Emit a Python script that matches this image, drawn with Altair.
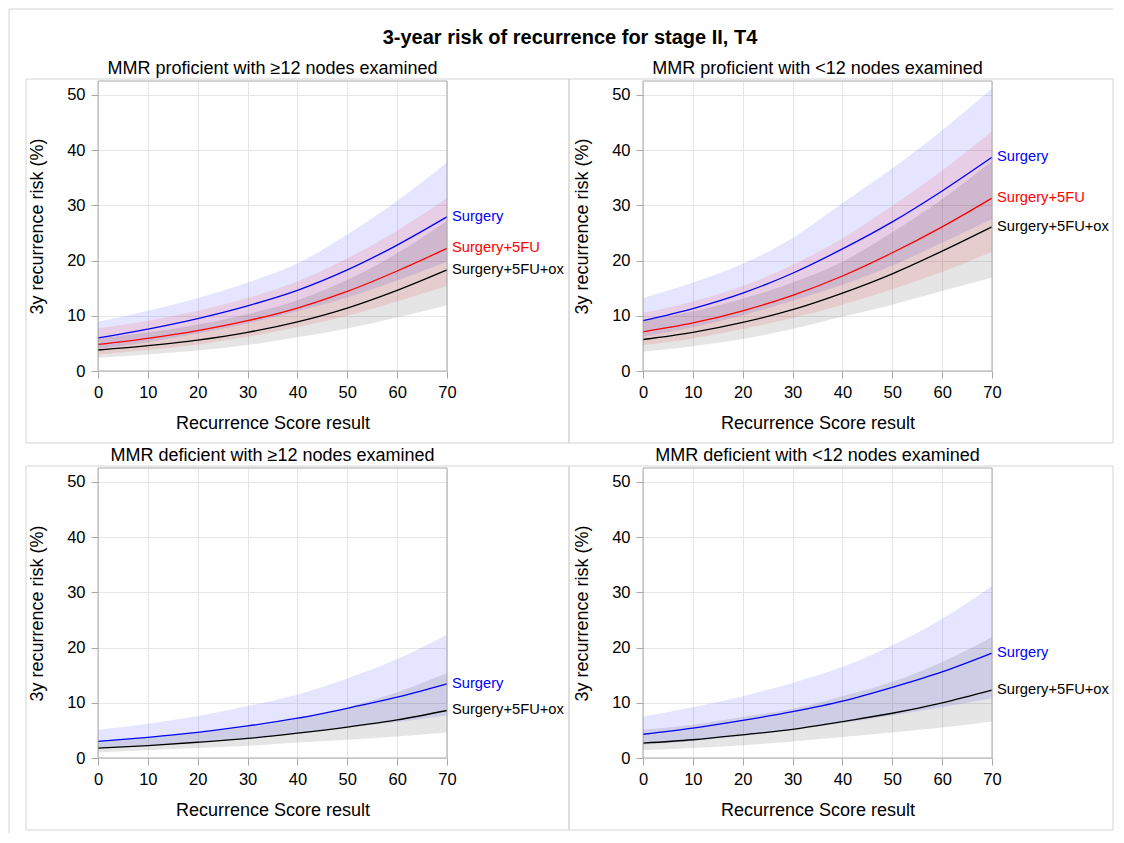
import altair as alt
import pandas as pd

FONT = "Liberation Sans"
MAIN_TITLE = "3-year risk of recurrence for stage II, T4"
PANEL_TITLES = [
    "MMR proficient with \u226512 nodes examined",
    "MMR proficient with <12 nodes examined",
    "MMR deficient with \u226512 nodes examined",
    "MMR deficient with <12 nodes examined",
]
SERIES = ["Surgery", "Surgery+5FU", "Surgery+5FU+ox"]
COLORS = ["#0000ff", "#ff0000", "#000000"]

X = [0, 10, 20, 30, 40, 50, 60, 70]

# Top-left: MMR proficient, >=12 nodes
TL_SURG = [6.0, 7.6, 9.5, 11.8, 14.6, 18.3, 22.8, 27.9]
TL_SURG_LO = [4.0, 5.2, 6.8, 8.6, 10.8, 13.3, 16.4, 19.8]
TL_SURG_HI = [8.9, 10.9, 13.2, 16.0, 19.5, 24.7, 30.8, 37.8]
TL_5FU = [4.8, 5.9, 7.3, 9.1, 11.4, 14.4, 18.1, 22.2]
TL_5FU_LO = [3.0, 3.8, 4.8, 6.2, 7.9, 10.0, 12.6, 15.4]
TL_5FU_HI = [7.7, 9.1, 10.9, 13.2, 16.2, 20.4, 25.4, 31.3]
TL_OX = [3.8, 4.6, 5.6, 7.0, 8.9, 11.4, 14.6, 18.3]
TL_OX_LO = [2.4, 3.0, 3.7, 4.7, 6.1, 7.7, 9.7, 11.9]
TL_OX_HI = [5.9, 7.0, 8.4, 10.3, 12.8, 16.5, 21.3, 27.2]

# Top-right: MMR proficient, <12 nodes
TR_SURG = [9.1, 11.3, 14.1, 17.7, 22.1, 27.0, 32.6, 38.7]
TR_SURG_LO = [6.2, 7.9, 10.1, 12.7, 15.6, 19.1, 23.2, 27.5]
TR_SURG_HI = [13.2, 16.0, 19.4, 24.1, 30.4, 36.7, 43.6, 51.2]
TR_5FU = [7.1, 8.7, 10.9, 13.7, 17.2, 21.4, 26.1, 31.3]
TR_5FU_LO = [4.7, 5.9, 7.6, 9.6, 12.0, 14.8, 17.9, 21.6]
TR_5FU_HI = [10.5, 12.6, 15.4, 19.2, 24.0, 29.9, 36.3, 43.4]
TR_OX = [5.7, 7.0, 8.8, 11.1, 14.1, 17.6, 21.7, 26.1]
TR_OX_LO = [3.5, 4.5, 5.8, 7.6, 9.8, 12.0, 14.5, 16.9]
TR_OX_HI = [9.1, 10.8, 13.1, 16.0, 19.8, 25.1, 31.1, 38.0]

# Bottom-left: MMR deficient, >=12 nodes
BL_SURG = [3.0, 3.75, 4.65, 5.8, 7.2, 9.0, 11.0, 13.4]
BL_SURG_LO = [1.8, 2.2, 2.8, 3.5, 4.4, 5.5, 6.5, 7.7]
BL_SURG_HI = [5.1, 6.2, 7.6, 9.4, 11.5, 14.4, 17.9, 22.3]
BL_OX = [1.8, 2.25, 2.85, 3.55, 4.5, 5.6, 6.9, 8.6]
BL_OX_LO = [1.0, 1.4, 1.8, 2.2, 2.8, 3.3, 3.9, 4.6]
BL_OX_HI = [3.1, 3.7, 4.6, 5.6, 7.1, 9.2, 11.9, 15.4]

# Bottom-right: MMR deficient, <12 nodes
BR_SURG = [4.3, 5.4, 6.8, 8.4, 10.3, 12.8, 15.6, 19.0]
BR_SURG_LO = [2.4, 3.1, 4.0, 5.1, 6.3, 7.7, 9.2, 10.8]
BR_SURG_HI = [7.5, 9.2, 11.2, 13.6, 16.5, 20.4, 25.2, 31.2]
BR_OX = [2.7, 3.3, 4.2, 5.2, 6.6, 8.1, 10.0, 12.3]
BR_OX_LO = [1.4, 1.8, 2.3, 3.0, 3.8, 4.6, 5.5, 6.6]
BR_OX_HI = [5.1, 6.0, 7.4, 8.9, 11.2, 13.8, 17.4, 21.9]

W, H = 349, 290
BOX_COLOR = "#d4d4d4"
FRAME_COLOR = "#a8a8a8"


def one(v):
    return pd.DataFrame({"v": [v]})


def panel(series_list, title, box_x, top_left=False):
    rows = []
    for name, mid, lo, hi in series_list:
        for x, m, l, h in zip(X, mid, lo, hi):
            rows.append({"rs": x, "series": name, "risk": m, "lo": l, "hi": h})
    df = pd.DataFrame(rows)

    xenc = alt.X(
        "rs:Q",
        scale=alt.Scale(domain=[0, 70], nice=False),
        axis=alt.Axis(values=X, title="Recurrence Score result", titlePadding=14,
                      labelFlush=False),
    )
    yscale = alt.Scale(domain=[0, 52.5], nice=False)
    yaxis = alt.Axis(values=[0, 10, 20, 30, 40, 50], title="3y recurrence risk (%)",
                     titlePadding=20, labelFlush=False)
    color = alt.Color("series:N", scale=alt.Scale(domain=SERIES, range=COLORS), legend=None)

    base = alt.Chart(df)
    bands = base.mark_area(interpolate="monotone", opacity=0.1).encode(
        x=xenc, y=alt.Y("lo:Q", scale=yscale, axis=yaxis), y2="hi:Q", color=color
    )
    lines = base.mark_line(interpolate="monotone", strokeWidth=1.3).encode(
        x=xenc, y=alt.Y("risk:Q", scale=yscale, axis=yaxis), color=color
    )
    labels = base.transform_filter("datum.rs == 70").mark_text(
        align="left", baseline="middle", dx=5, fontSize=14.7, font=FONT
    ).encode(
        x=xenc, y=alt.Y("risk:Q", scale=yscale, axis=yaxis), text="series:N", color=color
    )
    box = alt.Chart(one(0)).mark_rect(fill="transparent", stroke=BOX_COLOR, strokeWidth=1).encode(
        x=alt.value(box_x[0]), x2=alt.value(box_x[1]), y=alt.value(-2), y2=alt.value(H + 72)
    )
    frame = alt.Chart(one(0)).mark_rect(fill="transparent", stroke=FRAME_COLOR, strokeWidth=1).encode(
        x=alt.value(0), x2=alt.value(W), y=alt.value(0), y2=alt.value(H)
    )
    ptitle = alt.Chart(one(title)).mark_text(
        fontSize=18, font=FONT, align="center", baseline="middle", color="#000000"
    ).encode(text="v:N", x=alt.value(W / 2), y=alt.value(-12))

    layers = [box, bands, lines, frame, labels, ptitle]
    if top_left:
        mtitle = alt.Chart(one(MAIN_TITLE)).mark_text(
            fontSize=20, fontWeight="bold", font=FONT, align="center", baseline="middle",
            color="#000000"
        ).encode(text="v:N", x=alt.value(472), y=alt.value(-43))
        top_rule = alt.Chart(one(0)).mark_rule(color=BOX_COLOR).encode(
            x=alt.value(-89), x2=alt.value(1015), y=alt.value(-72)
        )
        left_rule = alt.Chart(one(0)).mark_rule(color=BOX_COLOR).encode(
            x=alt.value(-89), y=alt.value(-72), y2=alt.value(752)
        )
        layers += [mtitle, top_rule, left_rule]
    return alt.layer(*layers).properties(width=W, height=H)


tl = panel([("Surgery", TL_SURG, TL_SURG_LO, TL_SURG_HI),
            ("Surgery+5FU", TL_5FU, TL_5FU_LO, TL_5FU_HI),
            ("Surgery+5FU+ox", TL_OX, TL_OX_LO, TL_OX_HI)],
           PANEL_TITLES[0], (-72, 471), top_left=True)
tr = panel([("Surgery", TR_SURG, TR_SURG_LO, TR_SURG_HI),
            ("Surgery+5FU", TR_5FU, TR_5FU_LO, TR_5FU_HI),
            ("Surgery+5FU+ox", TR_OX, TR_OX_LO, TR_OX_HI)],
           PANEL_TITLES[1], (-74, 470))
bl = panel([("Surgery", BL_SURG, BL_SURG_LO, BL_SURG_HI),
            ("Surgery+5FU+ox", BL_OX, BL_OX_LO, BL_OX_HI)],
           PANEL_TITLES[2], (-72, 471))
br = panel([("Surgery", BR_SURG, BR_SURG_LO, BR_SURG_HI),
            ("Surgery+5FU+ox", BR_OX, BR_OX_LO, BR_OX_HI)],
           PANEL_TITLES[3], (-74, 470))

chart = (
    alt.concat(tl, tr, bl, br, columns=2,
               spacing=alt.RowColnumber(row=97, column=196), bounds="flush")
    .properties(padding=0)
    .configure_view(strokeWidth=0)
    .configure_axis(
        grid=True,
        gridColor="#e6e6e6",
        domain=False,
        tickColor=FRAME_COLOR,
        tickSize=7,
        labelPadding=6,
        labelFont=FONT,
        titleFont=FONT,
        labelFontSize=16.5,
        titleFontSize=18,
        titleFontWeight="normal",
        labelColor="#000000",
        titleColor="#000000",
    )
)

chart.save("out.html", embed_options={"renderer": "svg", "actions": False})
